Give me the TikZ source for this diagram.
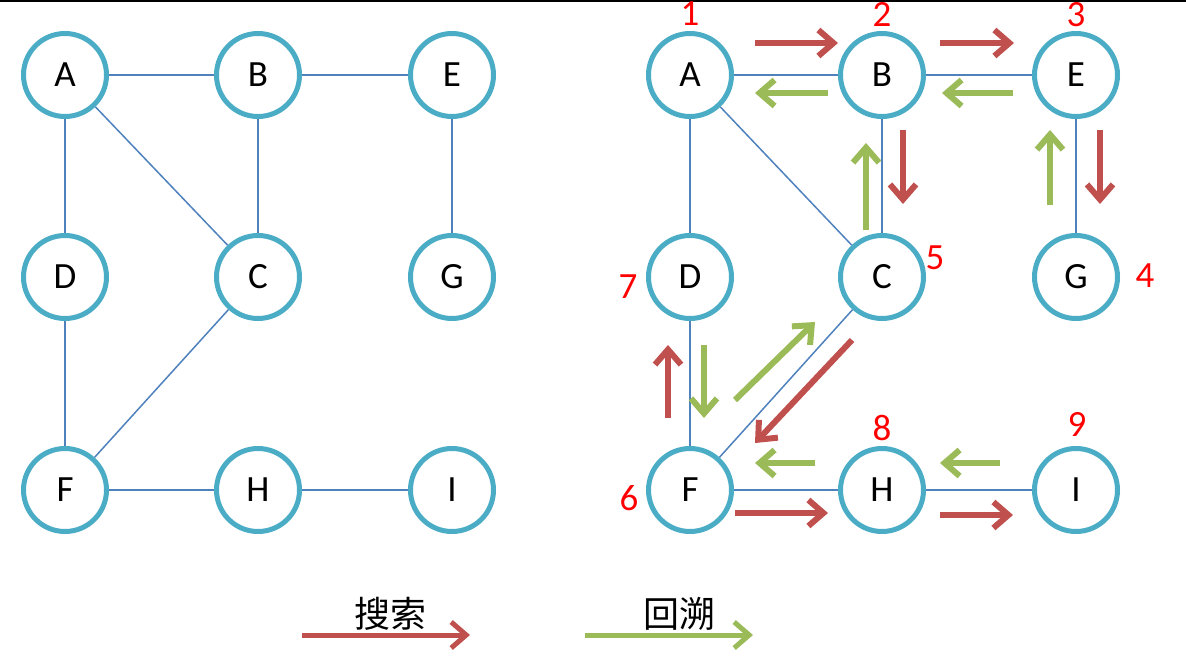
\documentclass[tikz,border=0pt]{standalone}
\usepackage{fontspec}
\setmainfont{Carlito}
\newfontfamily\cjkfont{Noto Sans CJK SC}
\usepackage{tikz}
\usepackage{xcolor}
\usetikzlibrary{arrows.meta}
\definecolor{ring-blue}{HTML}{4BACC6}
\definecolor{edge-blue}{HTML}{4F81BD}
\definecolor{search-red}{HTML}{C0504D}
\definecolor{back-green}{HTML}{9BBB59}
\tikzset{
    graph-node/.style = {draw=ring-blue, line width=5pt, circle, minimum size=83pt, inner sep=0pt, font=\fontsize{37}{40}\selectfont},
    graph-edge/.style = {draw=edge-blue, line width=1.5pt},
    search-arrow/.style = {draw=search-red, line width=6pt, -{Straight Barb[length=15pt,width=26pt]}},
    back-arrow/.style = {draw=back-green, line width=6pt, -{Straight Barb[length=15pt,width=26pt]}},
    step-label/.style = {text=red, inner sep=0pt, font=\fontsize{37}{40}\selectfont},
    legend-text/.style = {inner sep=0pt, font=\cjkfont\fontsize{36}{40}\selectfont},
}

\begin{document}
\begin{tikzpicture}[x=1pt, y=-1pt]
\useasboundingbox (0,0) rectangle (1186,656);
\draw[line width=2pt] (0,1) -- (1186,1);

% plain graph
\node[graph-node] (la) at (65,75) {A};
\node[graph-node] (lb) at (258,75) {B};
\node[graph-node] (le) at (452,75) {E};
\node[graph-node] (ld) at (65,277) {D};
\node[graph-node] (lc) at (258,277) {C};
\node[graph-node] (lg) at (452,277) {G};
\node[graph-node] (lf) at (65,490) {F};
\node[graph-node] (lh) at (258,490) {H};
\node[graph-node] (li) at (452,490) {I};
\draw[graph-edge] (la) -- (lb);
\draw[graph-edge] (lb) -- (le);
\draw[graph-edge] (la) -- (ld);
\draw[graph-edge] (la) -- (lc);
\draw[graph-edge] (lb) -- (lc);
\draw[graph-edge] (le) -- (lg);
\draw[graph-edge] (ld) -- (lf);
\draw[graph-edge] (lc) -- (lf);
\draw[graph-edge] (lf) -- (lh);
\draw[graph-edge] (lh) -- (li);

% depth-first walk
\node[graph-node] (ra) at (690,75) {A};
\node[graph-node] (rb) at (882,75) {B};
\node[graph-node] (re) at (1076,75) {E};
\node[graph-node] (rd) at (690,277) {D};
\node[graph-node] (rc) at (882,277) {C};
\node[graph-node] (rg) at (1076,277) {G};
\node[graph-node] (rf) at (690,490) {F};
\node[graph-node] (rh) at (882,490) {H};
\node[graph-node] (ri) at (1076,490) {I};
\draw[graph-edge] (ra) -- (rb);
\draw[graph-edge] (rb) -- (re);
\draw[graph-edge] (ra) -- (rd);
\draw[graph-edge] (ra) -- (rc);
\draw[graph-edge] (rb) -- (rc);
\draw[graph-edge] (re) -- (rg);
\draw[graph-edge] (rd) -- (rf);
\draw[graph-edge] (rc) -- (rf);
\draw[graph-edge] (rf) -- (rh);
\draw[graph-edge] (rh) -- (ri);

\node[step-label] (n1) at (690,14) {1};
\node[step-label] (n2) at (882,14) {2};
\node[step-label] (n3) at (1076,15) {3};
\node[step-label] (n4) at (1145,276) {4};
\node[step-label] (n5) at (935,258) {5};
\node[step-label] (n6) at (629,498) {6};
\node[step-label] (n7) at (628,287) {7};
\node[step-label] (n8) at (882,428) {8};
\node[step-label] (n9) at (1077,424) {9};

\draw[search-arrow] ([shift={(65,-32)}]ra.center) -- ([shift={(-44,-32)}]rb.center);
\draw[back-arrow] ([shift={(-54,18)}]rb.center) -- ([shift={(65,18)}]ra.center);
\draw[search-arrow] ([shift={(58,-32)}]rb.center) -- ([shift={(-62,-32)}]re.center);
\draw[back-arrow] ([shift={(-63,18)}]re.center) -- ([shift={(60,18)}]rb.center);
\draw[search-arrow] ([shift={(21,55)}]rb.center) -- ([shift={(21,-73)}]rc.center);
\draw[back-arrow] ([shift={(-16,-47)}]rc.center) -- ([shift={(-16,68)}]rb.center);
\draw[search-arrow] ([shift={(24,55)}]re.center) -- ([shift={(24,-73)}]rg.center);
\draw[back-arrow] ([shift={(-26,-72)}]rg.center) -- ([shift={(-26,55)}]re.center);
\draw[search-arrow] ([shift={(-30,63)}]rc.center) -- ([shift={(65,-47)}]rf.center);
\draw[back-arrow] ([shift={(45,-90)}]rf.center) -- ([shift={(-67,45)}]rc.center);
\draw[search-arrow] ([shift={(-22,-72)}]rf.center) -- ([shift={(-22,68)}]rd.center);
\draw[back-arrow] ([shift={(14,68)}]rd.center) -- ([shift={(14,-72)}]rf.center);
\draw[search-arrow] ([shift={(45,23)}]rf.center) -- ([shift={(-54,23)}]rh.center);
\draw[back-arrow] ([shift={(-67,-27)}]rh.center) -- ([shift={(65,-27)}]rf.center);
\draw[search-arrow] ([shift={(58,25)}]rh.center) -- ([shift={(-63,25)}]ri.center);
\draw[back-arrow] ([shift={(-76,-27)}]ri.center) -- ([shift={(58,-27)}]rh.center);

% legend
\node[legend-text] (search-key) at (390,614) {搜索};
\node[legend-text] (back-key) at (679,614) {回溯};
\draw[search-arrow, line width=5pt] ([shift={(-88,21)}]search-key.center) -- ([shift={(80,21)}]search-key.center);
\draw[back-arrow, line width=5pt] ([shift={(-94,21)}]back-key.center) -- ([shift={(74,21)}]back-key.center);
\end{tikzpicture}
\end{document}
